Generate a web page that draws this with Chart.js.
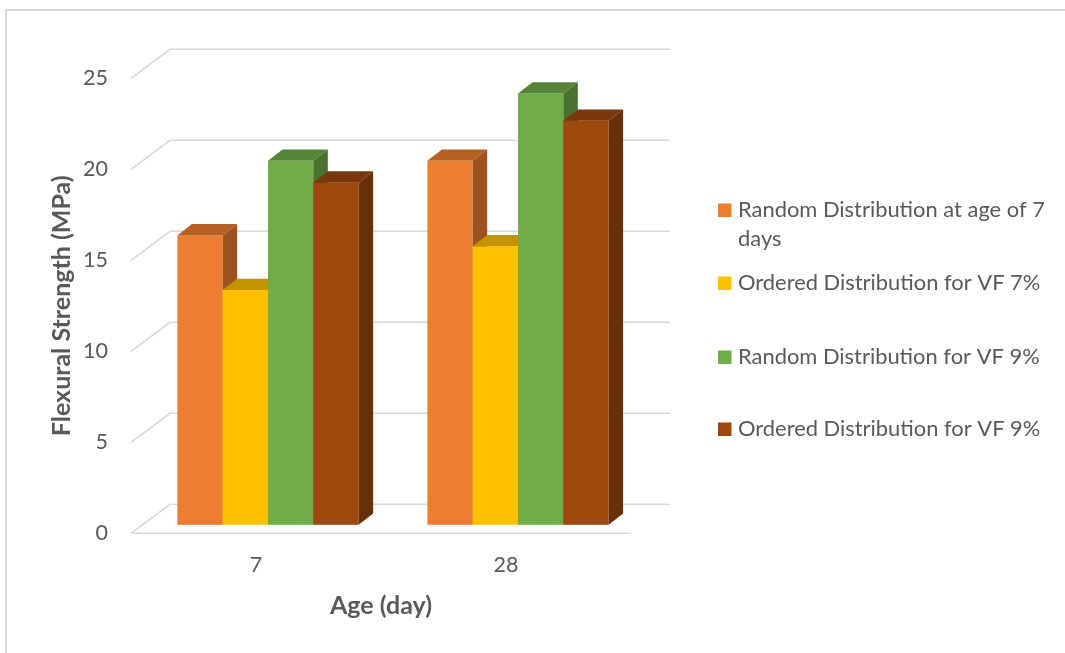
<!DOCTYPE html>
<html>
<head>
<meta charset="utf-8">
<title>Flexural Strength</title>
<script src="https://cdn.jsdelivr.net/npm/chart.js@4.4.1/dist/chart.umd.min.js"></script>
<style>
  html, body { margin: 0; padding: 0; background: #ffffff; }
  canvas { display: block; }
</style>
</head>
<body>
<canvas id="chart" width="1065" height="653"></canvas>
<script>
// ---- data ----
const categories = ['7', '28'];
const seriesNames = [
  ['Random Distribution at age of 7', 'days'],
  ['Ordered Distribution for VF 7%'],
  ['Random Distribution for VF 9%'],
  ['Ordered Distribution for VF 9%']
];
const randomAge7 = [15.9, 20.0];
const orderedVF7 = [12.9, 15.3];
const randomVF9 = [20.0, 23.7];
const orderedVF9 = [18.8, 22.2];
const yTicks = [0, 5, 10, 15, 20, 25];

// ---- styling ----
const TEXT = '#595959';
const GRID = '#d9d9d9';
const COLORS = ['#ED7D31', '#FFC000', '#70AD47', '#9E480E'];
const LABEL_SIZE = 21.5;
const LEGEND_SIZE = 21.9;
const TITLE_SIZE = 25;
const WALL_DX = 39, WALL_DY = -29;   // back wall offset from the front plane
const BAR_DX = 12, BAR_DY = -8.5;    // bar front face offset into the floor
const DEPTH_DX = 14.5, DEPTH_DY = -11.3; // bar thickness

function shade(hex, k) {
  const n = parseInt(hex.slice(1), 16);
  const r = Math.round(((n >> 16) & 255) * k);
  const g = Math.round(((n >> 8) & 255) * k);
  const b = Math.round((n & 255) * k);
  return `rgb(${r},${g},${b})`;
}

const depthBars = {
  id: 'depthBars',
  beforeDraw(chart) {
    const ctx = chart.ctx;
    ctx.save();
    ctx.fillStyle = '#ffffff';
    ctx.fillRect(0, 0, chart.width, chart.height);
    ctx.strokeStyle = GRID;
    ctx.lineWidth = 2;
    ctx.strokeRect(6, 10, chart.width + 10, chart.height + 10);
    ctx.restore();
  },
  beforeDatasetsDraw(chart) {
    const ctx = chart.ctx;
    const ys = chart.scales.y;
    const { left, right } = chart.chartArea;
    ctx.save();
    ctx.strokeStyle = GRID;
    ctx.lineWidth = 1.6;
    yTicks.forEach(v => {
      const py = ys.getPixelForValue(v);
      ctx.beginPath();
      ctx.moveTo(left, py);
      ctx.lineTo(left + WALL_DX, py + WALL_DY);
      ctx.lineTo(right + WALL_DX, py + WALL_DY);
      ctx.stroke();
    });
    const p0 = ys.getPixelForValue(0);
    ctx.beginPath();
    ctx.moveTo(left, p0);
    ctx.lineTo(right, p0);
    ctx.stroke();
    ctx.restore();
  },
  beforeDatasetDraw() {
    return false; // bars are drawn as solid blocks below
  },
  afterDatasetsDraw(chart) {
    const ctx = chart.ctx;
    ctx.save();
    chart.data.datasets.forEach((ds, i) => {
      const meta = chart.getDatasetMeta(i);
      const front = ds.backgroundColor;
      const top = shade(front, 0.77);
      const side = shade(front, 0.66);
      meta.data.forEach(bar => {
        const { x, y, base, width } = bar.getProps(['x', 'y', 'base', 'width'], true);
        const x1 = x - width / 2 + BAR_DX, x2 = x + width / 2 + BAR_DX;
        const yt = y + BAR_DY, yb = base + BAR_DY;
        // front face
        ctx.fillStyle = front;
        ctx.fillRect(x1, yt, x2 - x1, yb - yt);
        // top face
        ctx.fillStyle = top;
        ctx.beginPath();
        ctx.moveTo(x1, yt);
        ctx.lineTo(x1 + DEPTH_DX, yt + DEPTH_DY);
        ctx.lineTo(x2 + DEPTH_DX, yt + DEPTH_DY);
        ctx.lineTo(x2, yt);
        ctx.closePath();
        ctx.fill();
        // right side face
        ctx.fillStyle = side;
        ctx.beginPath();
        ctx.moveTo(x2, yt);
        ctx.lineTo(x2 + DEPTH_DX, yt + DEPTH_DY);
        ctx.lineTo(x2 + DEPTH_DX, yb + DEPTH_DY);
        ctx.lineTo(x2, yb);
        ctx.closePath();
        ctx.fill();
      });
    });
    ctx.restore();
  },
  afterDraw(chart) {
    // legend on the right
    const ctx = chart.ctx;
    const baselines = [217, 290, 364, 436];
    const lineGap = 29;
    ctx.save();
    ctx.font = `${LEGEND_SIZE}px Lato`;
    ctx.textBaseline = 'alphabetic';
    ctx.textAlign = 'left';
    chart.data.datasets.forEach((ds, i) => {
      const b = baselines[i];
      ctx.fillStyle = ds.backgroundColor;
      ctx.fillRect(718, b - 13.5, 13.5, 13.5);
      ctx.fillStyle = TEXT;
      seriesNames[i].forEach((line, k) => ctx.fillText(line, 738, b + k * lineGap));
    });
    ctx.restore();
  }
};

const datasets = [randomAge7, orderedVF7, randomVF9, orderedVF9].map((vals, i) => ({
  label: seriesNames[i].join(' '),
  data: vals,
  backgroundColor: COLORS[i],
  categoryPercentage: 0.725,
  barPercentage: 1.0
}));

Chart.defaults.font.family = 'Lato';
Chart.defaults.color = TEXT;

new Chart(document.getElementById('chart'), {
  type: 'bar',
  data: { labels: categories, datasets },
  plugins: [depthBars],
  options: {
    responsive: false,
    animation: false,
    layout: { padding: { left: 0, top: 78.3, right: 434, bottom: 0 } },
    plugins: { legend: { display: false }, tooltip: { enabled: false } },
    scales: {
      x: {
        grid: { display: false, drawTicks: false },
        border: { display: false },
        ticks: { font: { size: LABEL_SIZE }, color: TEXT, padding: 19 },
        title: { display: true, text: 'Age (day)', font: { size: TITLE_SIZE, weight: 'bold' }, color: TEXT, padding: { top: 0, bottom: 32 } },
        afterFit(scale) { scale.height = 119.7; }
      },
      y: {
        min: 0,
        max: 25,
        grid: { display: false, drawTicks: false },
        border: { display: false },
        ticks: { stepSize: 5, font: { size: LABEL_SIZE }, color: TEXT, padding: 23 },
        title: { display: true, text: 'Flexural Strength (MPa)', font: { size: TITLE_SIZE, weight: 'bold' }, color: TEXT, padding: { top: 47, bottom: 0 } },
        afterFit(scale) { scale.width = 131; }
      }
    }
  }
});
</script>
</body>
</html>
